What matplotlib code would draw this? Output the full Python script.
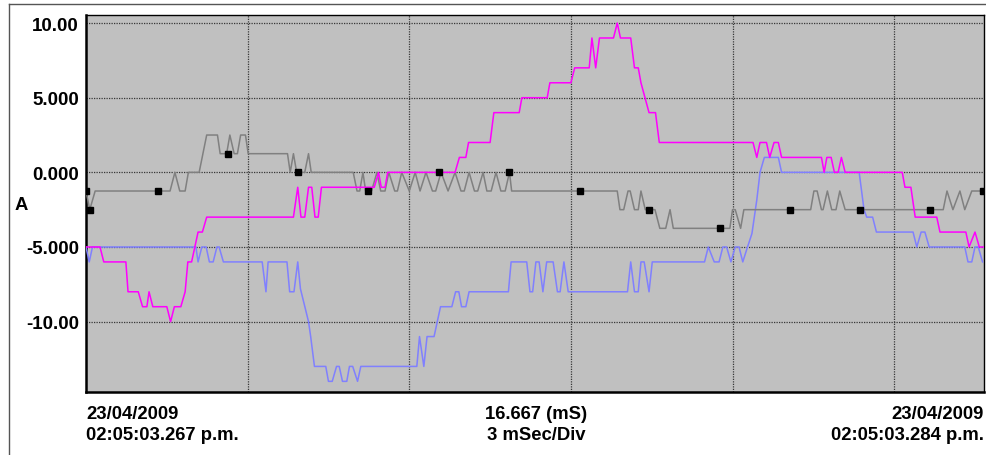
import matplotlib
matplotlib.use("Agg")
import matplotlib.pyplot as plt
from matplotlib.lines import Line2D

# ---------------- data (time in ms, current in A) ----------------
magenta_t = [0.00, 0.26, 0.33, 0.74, 0.78, 0.97, 1.05, 1.13, 1.17, 1.24, 1.50, 1.57, 1.64, 1.76,
             1.84, 1.89, 1.96, 2.08, 2.16, 2.24, 3.85, 3.93, 3.99, 4.06, 4.13, 4.19, 4.25, 4.31,
             4.37, 5.35, 5.43, 5.48, 5.55, 5.60, 6.85, 6.93, 7.05, 7.10, 7.50, 7.57, 8.04, 8.09,
             8.56, 8.61, 9.00, 9.07, 9.34, 9.39, 9.46, 9.53, 9.79, 9.86, 9.92, 10.11, 10.18,
             10.25, 10.30, 10.45, 10.57, 10.64, 12.38, 12.45, 12.51, 12.63, 12.69, 12.77, 12.85,
             12.91, 13.65, 13.70, 13.75, 13.83, 13.89, 13.96, 14.02, 14.09, 15.15, 15.20, 15.31,
             15.39, 15.79, 15.85, 16.33, 16.39, 16.50, 16.58, 16.67]
magenta_v = [-5, -5, -6, -6, -8, -8, -9, -9, -8, -9, -9, -10, -9, -9,
             -8, -6, -6, -4, -4, -3, -3, -1, -3, -3, -1, -1, -3, -3,
             -1, -1, 0, -1, -1, 0, 0, 1, 1, 2, 2, 4, 4, 5,
             5, 6, 6, 7, 7, 9, 7, 9, 9, 10, 9, 9, 7,
             7, 6, 4, 4, 2, 2, 1, 2, 2, 1, 2, 2,
             1, 1, 0, 1, 1, 0, 0, 1, 0, 0, -1, -1,
             -3, -3, -4, -4, -5, -4, -5, -5]

gray_t = [0.00, 0.07, 0.17, 1.56, 1.65, 1.74, 1.84, 1.90, 2.10, 2.24, 2.44, 2.49, 2.61, 2.67,
          2.75, 2.81, 2.87, 2.96, 3.01, 3.74, 3.79, 3.85, 3.91, 4.06, 4.13, 4.18, 4.96,
          5.03, 5.08, 5.14, 5.19, 5.30, 5.40, 5.47, 5.55, 5.62, 5.73, 5.78, 5.86, 6.00, 6.11,
          6.20, 6.31, 6.43, 6.49, 6.59, 6.72, 6.85, 6.96, 7.02, 7.11, 7.21, 7.27, 7.37, 7.44,
          7.52, 7.61, 7.70, 7.78, 7.86, 7.90, 9.86, 9.91, 9.98, 10.06, 10.10, 10.18, 10.25,
          10.30, 10.38, 10.56, 10.65, 10.76, 10.84, 10.90, 11.95, 12.00, 12.05, 12.15, 12.21,
          13.45, 13.51, 13.57, 13.65, 13.68, 13.76, 13.84, 13.92, 13.99, 14.09, 15.91, 15.98,
          16.09, 16.22, 16.31, 16.44, 16.67]
gray_v = [-1.25, -2.5, -1.25, -1.25, 0, -1.25, -1.25, 0, 0, 2.5, 2.5, 1.25, 1.25, 2.5,
          1.25, 1.25, 2.5, 2.5, 1.25, 1.25, 0, 1.25, 0, 0, 1.25, 0, 0,
          -1.25, -1.25, 0, -1.25, -1.25, 0, -1.25, -1.25, 0, -1.25, -1.25, 0, -1.25, 0,
          -1.25, 0, -1.25, -1.25, 0, -1.25, 0, -1.25, -1.25, 0, -1.25, -1.25, 0, -1.25,
          -1.25, 0, -1.25, -1.25, 0, -1.25, -1.25, -2.5, -2.5, -1.25, -1.25, -2.5, -2.5,
          -1.25, -2.5, -2.5, -3.75, -3.75, -2.5, -3.75, -3.75, -2.5, -2.5, -3.75, -2.5,
          -2.5, -1.25, -1.25, -2.5, -2.5, -1.25, -2.5, -2.5, -1.25, -2.5, -2.5, -1.25,
          -2.5, -1.25, -2.5, -1.25, -1.25]

gray_marker_t = [0.00, 0.07, 1.34, 2.64, 3.94, 5.24, 6.56, 7.86, 9.16, 10.45, 11.77, 13.07,
                 14.37, 15.66, 16.64]
gray_marker_v = [-1.25, -2.5, -1.25, 1.25, 0, -1.25, 0, 0, -1.25, -2.5, -3.75, -2.5,
                 -2.5, -2.5, -1.25]

blue_t = [0.00, 0.06, 0.12, 2.04, 2.08, 2.15, 2.23, 2.29, 2.36, 2.43, 2.47, 2.55, 3.27, 3.34,
          3.38, 3.73, 3.78, 3.86, 3.93, 3.98, 4.13, 4.17, 4.24, 4.45, 4.50, 4.57, 4.65, 4.70,
          4.76, 4.84, 4.89, 4.95, 5.04, 5.10, 6.14, 6.19, 6.27, 6.33, 6.46, 6.58, 6.79, 6.86,
          6.92, 6.97, 7.05, 7.11, 7.84, 7.89, 8.18, 8.24, 8.29, 8.35, 8.41, 8.48, 8.55, 8.67,
          8.75, 8.80, 8.87, 8.95, 10.05, 10.11, 10.18, 10.25, 10.30, 10.36, 10.45, 10.51,
          11.48, 11.55, 11.66, 11.75, 11.82, 11.89, 11.97, 12.05, 12.12, 12.19, 12.26, 12.36,
          12.45, 12.51, 12.59, 12.85, 12.91, 14.35, 14.44, 14.49, 14.60, 14.67, 15.35, 15.42,
          15.50, 15.57, 15.65, 16.31, 16.37, 16.44, 16.50, 16.56, 16.64]
blue_v = [-5, -6, -5, -5, -6, -5, -5, -6, -6, -5, -5, -6, -6, -8,
          -6, -6, -8, -8, -6, -7.8, -10, -11, -13, -13, -14, -14, -13, -13,
          -14, -14, -13, -13, -14, -13, -13, -11, -13, -11, -11, -9, -9, -8,
          -8, -9, -9, -8, -8, -6, -6, -8, -8, -6, -6, -8, -6, -6,
          -8, -8, -6, -8, -8, -6, -8, -8, -6, -6, -8, -6,
          -6, -5, -6, -6, -5, -5, -6, -5, -5, -6, -5.2, -4.1,
          -1.85, 0, 1, 1, 0, 0, -2.5, -3, -3, -4, -4, -5,
          -4, -4, -5, -5, -6, -6, -5, -5, -6]

y_ticks = [-10, -5, 0, 5, 10]
y_tick_labels = ["-10.00", "-5.000", "0.000", "5.000", "10.00"]
x_grid = [3, 6, 9, 12, 15]
x_max = 16.667
y_unit = "A"
left_date, left_time = "23/04/2009", "02:05:03.267 p.m."
center_span, center_div = "16.667 (mS)", "3 mSec/Div"
right_date, right_time = "23/04/2009", "02:05:03.284 p.m."

# ---------------- figure ----------------
W, H = 987, 456
fig = plt.figure(figsize=(W / 100, H / 100), dpi=100)
fig.patch.set_facecolor("white")

L, R, T, B = 86, 984, 16, 392.5
ax = fig.add_axes([L / W, 1 - B / H, (R - L) / W, (B - T) / H])
ax.set_facecolor("#C0C0C0")

ax.plot(blue_t, blue_v, color="#8080FF", lw=1.1, zorder=3)
ax.plot(gray_t, gray_v, color="#808080", lw=1.1, zorder=4)
ax.plot(magenta_t, magenta_v, color="#FF00FF", lw=1.1, zorder=5)
ax.plot(gray_marker_t, gray_marker_v, linestyle="none", marker="s", markersize=5,
        markerfacecolor="black", markeredgecolor="black", zorder=6, clip_on=True)

ax.set_xlim(0, x_max)
ax.set_ylim(-14.68, 10.54)
ax.set_yticks(y_ticks)
ax.set_yticklabels(y_tick_labels)
ax.set_xticks(x_grid)
ax.tick_params(axis="x", length=0, labelbottom=False)
ax.tick_params(axis="y", length=0, pad=5)
for lab in ax.get_yticklabels():
    lab.set_fontfamily("Liberation Sans")
    lab.set_fontweight("bold")
    lab.set_fontsize(13.5)

ax.grid(True, color="#383838", linestyle=(0, (1, 1)), linewidth=0.9, zorder=1)
ax.set_axisbelow(True)

ax.spines["left"].set_linewidth(1.8)
ax.spines["bottom"].set_linewidth(1.8)
ax.spines["top"].set_linewidth(1.0)
ax.spines["right"].set_linewidth(1.0)
for s in ax.spines.values():
    s.set_color("black")

# outer frame lines (left and top)
fig.add_artist(Line2D([9 / W, 9 / W], [0, 1 - 5 / H], color="#555555", lw=1.0))
fig.add_artist(Line2D([9 / W, 1], [1 - 5 / H, 1 - 5 / H], color="#555555", lw=1.0))

tk = dict(fontfamily="Liberation Sans", fontweight="bold", fontsize=13.3)
fig.text(21 / W, 1 - 206 / H, y_unit, ha="center", va="center", **tk)

y1, y2 = 1 - 415 / H, 1 - 436 / H
fig.text(L / W, y1, left_date, ha="left", va="center", **tk)
fig.text(L / W, y2, left_time, ha="left", va="center", **tk)
fig.text(536 / W, y1, center_span, ha="center", va="center", **tk)
fig.text(536 / W, y2, center_div, ha="center", va="center", **tk)
fig.text(R / W, y1, right_date, ha="right", va="center", **tk)
fig.text(R / W, y2, right_time, ha="right", va="center", **tk)

fig.savefig("out.png", dpi=100)
